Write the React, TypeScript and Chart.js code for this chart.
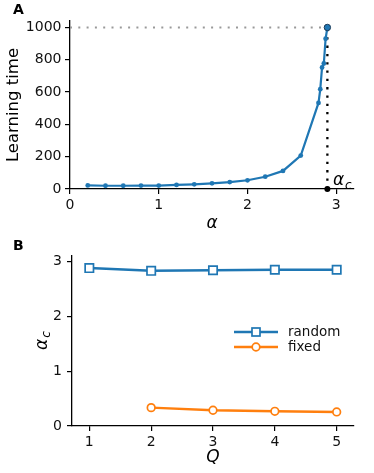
import React, { useEffect, useRef } from 'react';
import { Chart, registerables } from 'chart.js';

Chart.register(...registerables);

// ---------- Panel A data ----------
const alphaValues = [0.2, 0.4, 0.6, 0.8, 1.0, 1.2, 1.4, 1.6, 1.8, 2.0, 2.2, 2.4, 2.6, 2.8, 2.82, 2.84, 2.86, 2.88, 2.9];
const learningTimes = [22, 20, 20, 21, 21, 25, 29, 35, 43, 54, 76, 112, 207, 533, 618, 752, 777, 930, 1000];
const alphaCritical = 2.9;
const maxLearningTime = 1000;
const alphaTicks = [0, 1, 2, 3];
const timeTicks = [0, 200, 400, 600, 800, 1000];

// ---------- Panel B data ----------
const qValuesRandom = [1, 2, 3, 4, 5];
const alphaCRandom = [2.88, 2.83, 2.84, 2.85, 2.85];
const qValuesFixed = [2, 3, 4, 5];
const alphaCFixed = [0.335, 0.287, 0.268, 0.256];
const qTicks = [1, 2, 3, 4, 5];
const alphaCTicks = [0, 1, 2, 3];
const seriesLabels = ['random', 'fixed'];

const FONT = '"DejaVu Sans", sans-serif';
const BLUE = '#1f77b4';
const ORANGE = '#ff7f0e';
const INK = '#111';

function tickOpts(padding: number) {
  return {
    font: { family: FONT, size: 14 },
    color: INK,
    padding,
    maxRotation: 0,
    autoSkip: false,
    callback: (v: any) => String(v),
  };
}
const gridOpts = { display: true, drawOnChartArea: false, drawTicks: true, tickLength: 5, color: '#000', lineWidth: 1.2 };
const borderOpts = { display: true, color: '#000', width: 1.3 };

function drawAlphaC(ctx: CanvasRenderingContext2D, x: number, y: number) {
  ctx.font = `italic 17px ${FONT}`;
  ctx.textBaseline = 'alphabetic';
  ctx.textAlign = 'left';
  ctx.fillStyle = '#000';
  ctx.fillText('α', x, y);
  const w = ctx.measureText('α').width;
  ctx.font = `italic 12px ${FONT}`;
  ctx.fillText('c', x + w + 1, y + 3.5);
}

const panelAPlugin = {
  id: 'panelA',
  afterDraw(chart: any) {
    const ctx = chart.ctx as CanvasRenderingContext2D;
    const xs = chart.scales.x;
    const ys = chart.scales.y;
    ctx.save();
    ctx.font = `bold 14px ${FONT}`;
    ctx.fillStyle = '#000';
    ctx.textBaseline = 'alphabetic';
    ctx.fillText('A', 13, 13.5);
    drawAlphaC(ctx, xs.getPixelForValue(alphaCritical) + 5.5, ys.getPixelForValue(0) - 4);
    ctx.restore();
  },
};

const panelBPlugin = {
  id: 'panelB',
  afterDraw(chart: any) {
    const ctx = chart.ctx as CanvasRenderingContext2D;
    const area = chart.chartArea;
    ctx.save();
    ctx.font = `bold 14px ${FONT}`;
    ctx.fillStyle = '#000';
    ctx.textBaseline = 'alphabetic';
    ctx.fillText('B', 13, 20);
    // y-axis title alpha_c (rotated)
    ctx.save();
    ctx.translate(46.7, 120);
    ctx.rotate(-Math.PI / 2);
    drawAlphaC(ctx, 0, 0);
    ctx.restore();
    // legend
    const x0 = area.right - 120;
    const rows = [area.top + 76, area.top + 91];
    const colors = [BLUE, ORANGE];
    rows.forEach((ry, i) => {
      ctx.strokeStyle = colors[i];
      ctx.lineWidth = 2.4;
      ctx.beginPath();
      ctx.moveTo(x0, ry);
      ctx.lineTo(x0 + 44, ry);
      ctx.stroke();
      ctx.fillStyle = '#fff';
      ctx.lineWidth = 1.7;
      const mx = x0 + 22;
      if (i === 0) {
        ctx.fillRect(mx - 4, ry - 4, 8, 8);
        ctx.strokeRect(mx - 4, ry - 4, 8, 8);
      } else {
        ctx.beginPath();
        ctx.arc(mx, ry, 3.8, 0, Math.PI * 2);
        ctx.fill();
        ctx.stroke();
      }
      ctx.fillStyle = INK;
      ctx.font = `13.5px ${FONT}`;
      ctx.textBaseline = 'middle';
      ctx.fillText(seriesLabels[i], x0 + 54, ry);
    });
    ctx.restore();
  },
};

export default function App() {
  const refA = useRef<HTMLCanvasElement>(null);
  const refB = useRef<HTMLCanvasElement>(null);

  useEffect(() => {
    const chartA = new Chart(refA.current as HTMLCanvasElement, {
      type: 'line',
      data: {
        datasets: [
          {
            data: [{ x: 0, y: maxLearningTime }, { x: alphaCritical, y: maxLearningTime }],
            borderColor: '#999',
            borderWidth: 2,
            borderDash: [2, 6.3],
            pointRadius: 0,
            order: 4,
          },
          {
            data: [{ x: alphaCritical, y: 0 }, { x: alphaCritical, y: maxLearningTime }],
            borderColor: '#000',
            borderWidth: 2.3,
            borderDash: [2.3, 6],
            pointRadius: 0,
            order: 3,
          },
          {
            data: alphaValues.map((a, i) => ({ x: a, y: learningTimes[i] })),
            borderColor: BLUE,
            backgroundColor: BLUE,
            borderWidth: 2.2,
            pointRadius: 2.4,
            pointBorderWidth: 0,
            pointBackgroundColor: BLUE,
            order: 2,
          },
          {
            data: [{ x: alphaCritical, y: maxLearningTime }],
            showLine: false,
            pointRadius: 3.2,
            pointBackgroundColor: BLUE,
            pointBorderColor: '#1b3a57',
            pointBorderWidth: 1,
            order: 1,
            clip: false,
          } as any,
          {
            data: [{ x: alphaCritical, y: 0 }],
            showLine: false,
            pointRadius: 3,
            pointBackgroundColor: '#000',
            pointBorderColor: '#000',
            pointBorderWidth: 0,
            order: 0,
            clip: false,
          } as any,
        ],
      },
      options: {
        responsive: false,
        maintainAspectRatio: false,
        animation: false,
        events: [],
        layout: { padding: { top: 21, right: 20, left: 0, bottom: 0 } },
        plugins: { legend: { display: false }, tooltip: { enabled: false } },
        scales: {
          x: {
            type: 'linear',
            min: 0,
            max: 3.2,
            afterBuildTicks: (s: any) => { s.ticks = alphaTicks.map((v) => ({ value: v })); },
            afterFit: (s: any) => { s.height = 51; },
            ticks: tickOpts(3),
            grid: gridOpts,
            border: borderOpts,
            title: { display: true, text: 'α', font: { family: FONT, size: 17, style: 'italic' }, color: '#000', padding: { top: 0, bottom: 5.8 } },
          },
          y: {
            type: 'linear',
            min: 0,
            max: 1040,
            afterBuildTicks: (s: any) => { s.ticks = timeTicks.map((v) => ({ value: v })); },
            afterFit: (s: any) => { s.width = 70; },
            ticks: tickOpts(3.5),
            grid: gridOpts,
            border: borderOpts,
            title: { display: true, text: 'Learning time', font: { family: FONT, size: 16.5 }, color: '#000', padding: { top: 4.1, bottom: 0 } },
          },
        },
      } as any,
      plugins: [panelAPlugin],
    });

    const chartB = new Chart(refB.current as HTMLCanvasElement, {
      type: 'line',
      data: {
        datasets: [
          {
            label: seriesLabels[0],
            data: qValuesRandom.map((q, i) => ({ x: q, y: alphaCRandom[i] })),
            borderColor: BLUE,
            borderWidth: 2.4,
            pointStyle: 'rect',
            pointRadius: 5.9,
            pointBorderWidth: 1.7,
            pointBackgroundColor: '#fff',
            pointBorderColor: BLUE,
          },
          {
            label: seriesLabels[1],
            data: qValuesFixed.map((q, i) => ({ x: q, y: alphaCFixed[i] })),
            borderColor: ORANGE,
            borderWidth: 2.4,
            pointStyle: 'circle',
            pointRadius: 3.8,
            pointBorderWidth: 1.7,
            pointBackgroundColor: '#fff',
            pointBorderColor: ORANGE,
          },
        ],
      },
      options: {
        responsive: false,
        maintainAspectRatio: false,
        animation: false,
        events: [],
        layout: { padding: { top: 26, right: 20, left: 0, bottom: 0 } },
        plugins: { legend: { display: false }, tooltip: { enabled: false } },
        scales: {
          x: {
            type: 'linear',
            min: 0.72,
            max: 5.28,
            afterBuildTicks: (s: any) => { s.ticks = qTicks.map((v) => ({ value: v })); },
            afterFit: (s: any) => { s.height = 47; },
            ticks: tickOpts(3),
            grid: gridOpts,
            border: borderOpts,
            title: { display: true, text: 'Q', font: { family: FONT, size: 17, style: 'italic' }, color: '#000', padding: { top: 0, bottom: 4.8 } },
          },
          y: {
            type: 'linear',
            min: 0,
            max: 3.1,
            afterBuildTicks: (s: any) => { s.ticks = alphaCTicks.map((v) => ({ value: v })); },
            afterFit: (s: any) => { s.width = 72; },
            ticks: tickOpts(5),
            grid: gridOpts,
            border: borderOpts,
          },
        },
      } as any,
      plugins: [panelBPlugin],
    });

    return () => {
      chartA.destroy();
      chartB.destroy();
    };
  }, []);

  return (
    <div style={{ position: 'absolute', left: 0, top: 0, width: 374, height: 473, background: '#fff' }}>
      <canvas ref={refA} width={374} height={240} style={{ position: 'absolute', left: 0, top: 0 }} />
      <canvas ref={refB} width={374} height={243} style={{ position: 'absolute', left: 0, top: 230 }} />
    </div>
  );
}
